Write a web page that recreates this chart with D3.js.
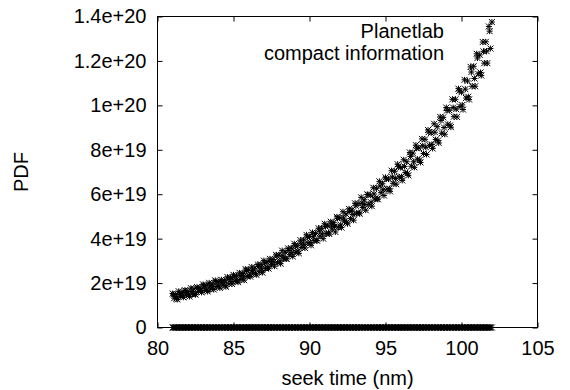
<!DOCTYPE html>
<html>
<head>
<meta charset="utf-8">
<script src="https://cdn.jsdelivr.net/npm/d3@7"></script>
<style>
  body { margin: 0; background: #fff; }
  svg { display: block; }
</style>
</head>
<body>
<svg id="chart" width="570" height="390"></svg>
<script>
const FONT = '"Liberation Sans", Arial, Helvetica, sans-serif';

const xTicks = [80, 85, 90, 95, 100, 105];
const yTicks = [0, 2e19, 4e19, 6e19, 8e19, 1e20, 1.2e20, 1.4e20];
const yTickLabels = ['0', '2e+19', '4e+19', '6e+19', '8e+19', '1e+20', '1.2e+20', '1.4e+20'];
const legendLines = ['Planetlab', 'compact information'];

// PDF samples, y given in units of 1e19
const yUnit = 1e19;
const runA = [
  [81.0, 1.53], [81.2, 1.48], [81.4, 1.63], [81.6, 1.58], [81.8, 1.68], [82.0, 1.61],
  [82.2, 1.77], [82.4, 1.73], [82.6, 1.82], [82.8, 1.77], [83.0, 1.94], [83.2, 1.90],
  [83.4, 2.01], [83.6, 1.96], [83.8, 2.12], [84.0, 2.06], [84.2, 2.15], [84.4, 2.12],
  [84.6, 2.27], [84.8, 2.25], [85.0, 2.37], [85.2, 2.32], [85.4, 2.46], [85.6, 2.43],
  [85.8, 2.63], [86.0, 2.59], [86.2, 2.72], [86.4, 2.67], [86.6, 2.84], [86.8, 2.83],
  [87.0, 3.01], [87.2, 2.94], [87.4, 3.09], [87.6, 3.06], [87.8, 3.27], [88.0, 3.26],
  [88.2, 3.46], [88.4, 3.39], [88.6, 3.56], [88.8, 3.57], [89.0, 3.77], [89.2, 3.68],
  [89.4, 3.93], [89.6, 3.94], [89.8, 4.17], [90.0, 4.09], [90.2, 4.28], [90.4, 4.23],
  [90.6, 4.47], [90.8, 4.47], [91.0, 4.67], [91.2, 4.58], [91.4, 4.76], [91.6, 4.72],
  [91.8, 4.98], [92.0, 4.94], [92.2, 5.21], [92.4, 5.11], [92.6, 5.34], [92.8, 5.29],
  [93.0, 5.59], [93.2, 5.58], [93.4, 5.86], [93.6, 5.75], [93.8, 5.99], [94.0, 5.95],
  [94.2, 6.29], [94.4, 6.27], [94.6, 6.58], [94.8, 6.47], [95.0, 6.76], [95.2, 6.69],
  [95.4, 7.06], [95.6, 7.03], [95.8, 7.35], [96.0, 7.20], [96.2, 7.55], [96.4, 7.46],
  [96.6, 7.88], [96.8, 7.85], [97.0, 8.21], [97.2, 8.08], [97.4, 8.49], [97.6, 8.47],
  [97.8, 8.89], [98.0, 8.76], [98.2, 9.17], [98.4, 9.04], [98.6, 9.48], [98.8, 9.46],
  [99.0, 9.90], [99.2, 9.78], [99.4, 10.27], [99.6, 10.27], [99.8, 10.75], [100.0, 10.59],
  [100.2, 11.15], [100.4, 11.10], [100.6, 11.73], [100.8, 11.76], [101.0, 12.32], [101.2, 12.27],
  [101.4, 12.85], [101.6, 12.86], [101.8, 13.55], [102.0, 13.75],
];
const runB = [
  [81.1, 1.32], [81.3, 1.26], [81.5, 1.41], [81.7, 1.36], [81.9, 1.46], [82.1, 1.39],
  [82.3, 1.51], [82.5, 1.48], [82.7, 1.63], [82.9, 1.58], [83.1, 1.69], [83.3, 1.62],
  [83.5, 1.73], [83.7, 1.71], [83.9, 1.85], [84.1, 1.78], [84.3, 1.91], [84.5, 1.83],
  [84.7, 1.97], [84.9, 1.96], [85.1, 2.09], [85.3, 2.04], [85.5, 2.16], [85.7, 2.13],
  [85.9, 2.31], [86.1, 2.29], [86.3, 2.44], [86.5, 2.37], [86.7, 2.51], [86.9, 2.47],
  [87.1, 2.67], [87.3, 2.65], [87.5, 2.83], [87.7, 2.76], [87.9, 2.92], [88.1, 2.87],
  [88.3, 3.09], [88.5, 3.09], [88.7, 3.28], [88.9, 3.20], [89.1, 3.40], [89.3, 3.34],
  [89.5, 3.60], [89.7, 3.58], [89.9, 3.81], [90.1, 3.70], [90.3, 3.91], [90.5, 3.91],
  [90.7, 4.11], [90.9, 4.00], [91.1, 4.23], [91.3, 4.21], [91.5, 4.43], [91.7, 4.30],
  [91.9, 4.52], [92.1, 4.50], [92.3, 4.78], [92.5, 4.67], [92.7, 4.90], [92.9, 4.83],
  [93.1, 5.14], [93.3, 5.12], [93.5, 5.40], [93.7, 5.28], [93.9, 5.54], [94.1, 5.46],
  [94.3, 5.79], [94.5, 5.77], [94.7, 6.07], [94.9, 5.94], [95.1, 6.23], [95.3, 6.13],
  [95.5, 6.49], [95.7, 6.45], [95.9, 6.77], [96.1, 6.62], [96.3, 6.97], [96.5, 6.85],
  [96.7, 7.26], [96.9, 7.21], [97.1, 7.58], [97.3, 7.43], [97.5, 7.83], [97.7, 7.79],
  [97.9, 8.20], [98.1, 8.06], [98.3, 8.46], [98.5, 8.31], [98.7, 8.74], [98.9, 8.70],
  [99.1, 9.15], [99.3, 9.02], [99.5, 9.49], [99.7, 9.48], [99.9, 9.95], [100.1, 9.81],
  [100.3, 10.33], [100.5, 10.26], [100.7, 10.86], [100.9, 10.86], [101.1, 11.42], [101.3, 11.34],
  [101.5, 11.90], [101.7, 11.90], [101.9, 12.56],
];
const runC = [
  [81.05, 1.49], [81.25, 1.30], [81.45, 1.51], [81.65, 1.46], [81.85, 1.65], [82.05, 1.47],
  [82.25, 1.62], [82.45, 1.50], [82.65, 1.76], [82.85, 1.67], [83.05, 1.87], [83.25, 1.68],
  [83.45, 1.88], [83.65, 1.85], [83.85, 2.06], [84.05, 1.86], [84.25, 2.03], [84.45, 1.89],
  [84.65, 2.17], [84.85, 2.07], [85.05, 2.29], [85.25, 2.10], [85.45, 2.34], [85.65, 2.31],
  [85.85, 2.56], [86.05, 2.36], [86.25, 2.56], [86.45, 2.43], [86.65, 2.75], [86.85, 2.65],
  [87.05, 2.90], [87.25, 2.69], [87.45, 2.97], [87.65, 2.94], [87.85, 3.22], [88.05, 3.00],
  [88.25, 3.23], [88.45, 3.10], [88.65, 3.47], [88.85, 3.37], [89.05, 3.67], [89.25, 3.44],
  [89.45, 3.77], [89.65, 3.74], [89.85, 4.07], [90.05, 3.83], [90.25, 4.09], [90.45, 3.92],
  [90.65, 4.34], [90.85, 4.21], [91.05, 4.54], [91.25, 4.26], [91.45, 4.61], [91.65, 4.55],
  [91.85, 4.91], [92.05, 4.62], [92.25, 4.93], [92.45, 4.74], [92.65, 5.23], [92.85, 5.09],
  [93.05, 5.48], [93.25, 5.17], [93.45, 5.59], [93.65, 5.54], [93.85, 5.98], [94.05, 5.64],
  [94.25, 6.01], [94.45, 5.79], [94.65, 6.37], [94.85, 6.20], [95.05, 6.68], [95.25, 6.25],
  [95.45, 6.77], [95.65, 6.71], [95.85, 7.24], [96.05, 6.79], [96.25, 7.25], [96.45, 6.94],
  [96.65, 7.70], [96.85, 7.46], [97.05, 8.07], [97.25, 7.54], [97.45, 8.18], [97.65, 8.12],
  [97.85, 8.80], [98.05, 8.24], [98.25, 8.79], [98.45, 8.41], [98.65, 9.32], [98.85, 9.00],
  [99.05, 9.77], [99.25, 9.10], [99.45, 9.90], [99.65, 9.83], [99.85, 10.65], [100.05, 10.02],
  [100.25, 10.73], [100.45, 10.39], [100.65, 11.50], [100.85, 11.21], [101.05, 12.13], [101.25, 11.48],
  [101.45, 12.43], [101.65, 12.44], [101.85, 13.34],
];
// the same seek times also show up with zero density
const zeroRow = runA.concat(runB, runC).map(d => [d[0], 0]);

const plot = { left: 157.5, right: 537.5, top: 16.5, bottom: 327.5 };
const tickLen = 5;

const svg = d3.select('#chart');

const xScale = d3.scaleLinear()
  .domain([80, 105])
  .range([plot.left, plot.right]);

const yScale = d3.scaleLinear()
  .domain([0, 1.4e20])
  .range([plot.bottom, plot.top]);

// ticks on all four sides, pointing inwards
const styleAxis = (g) => {
  g.select('.domain').remove();
  g.attr('font-family', FONT).attr('font-size', 20);
  g.selectAll('.tick text').attr('fill', '#000');
  g.selectAll('.tick line').attr('stroke', '#000');
};

svg.append('g')
  .attr('transform', `translate(0,${plot.bottom})`)
  .call(d3.axisBottom(xScale).tickValues(xTicks).tickSize(-tickLen).tickPadding(13))
  .call(styleAxis);

svg.append('g')
  .attr('transform', `translate(0,${plot.top})`)
  .call(d3.axisTop(xScale).tickValues(xTicks).tickSize(-tickLen).tickFormat(''))
  .call(styleAxis);

svg.append('g')
  .attr('transform', `translate(${plot.left},0)`)
  .call(d3.axisLeft(yScale).tickValues(yTicks).tickSize(-tickLen).tickPadding(11)
    .tickFormat((d, i) => yTickLabels[i]))
  .call(styleAxis);

svg.append('g')
  .attr('transform', `translate(${plot.right},0)`)
  .call(d3.axisRight(yScale).tickValues(yTicks).tickSize(-tickLen).tickFormat(''))
  .call(styleAxis);

// frame
svg.append('rect')
  .attr('x', plot.left)
  .attr('y', plot.top)
  .attr('width', plot.right - plot.left)
  .attr('height', plot.bottom - plot.top)
  .attr('fill', 'none')
  .attr('stroke', '#000')
  .attr('stroke-width', 1);

// asterisk markers like gnuplot point type 3
const s = 3;
const star = `M${-s},0H${s}M0,${-s}V${s}M${-s},${-s}L${s},${s}M${-s},${s}L${s},${-s}`;

const points = svg.append('g')
  .attr('fill', 'none')
  .attr('stroke', '#000')
  .attr('stroke-width', 1);

points.selectAll('path.pt')
  .data(runA.concat(runB, runC, zeroRow))
  .enter()
  .append('path')
  .attr('class', 'pt')
  .attr('d', star)
  .attr('transform', d => `translate(${xScale(d[0])},${yScale(d[1] * yUnit)})`);

// key
svg.append('g')
  .selectAll('text')
  .data(legendLines)
  .enter()
  .append('text')
  .attr('x', 444)
  .attr('y', (d, i) => 37.5 + i * 22.5)
  .attr('text-anchor', 'end')
  .attr('font-family', FONT)
  .attr('font-size', 20)
  .text(d => d);

// axis titles
svg.append('text')
  .attr('x', (plot.left + plot.right) / 2)
  .attr('y', 385)
  .attr('text-anchor', 'middle')
  .attr('font-family', FONT)
  .attr('font-size', 20)
  .text('seek time (nm)');

svg.append('text')
  .attr('transform', `translate(28,${(plot.top + plot.bottom) / 2}) rotate(-90)`)
  .attr('text-anchor', 'middle')
  .attr('font-family', FONT)
  .attr('font-size', 20)
  .text('PDF');
</script>
</body>
</html>
